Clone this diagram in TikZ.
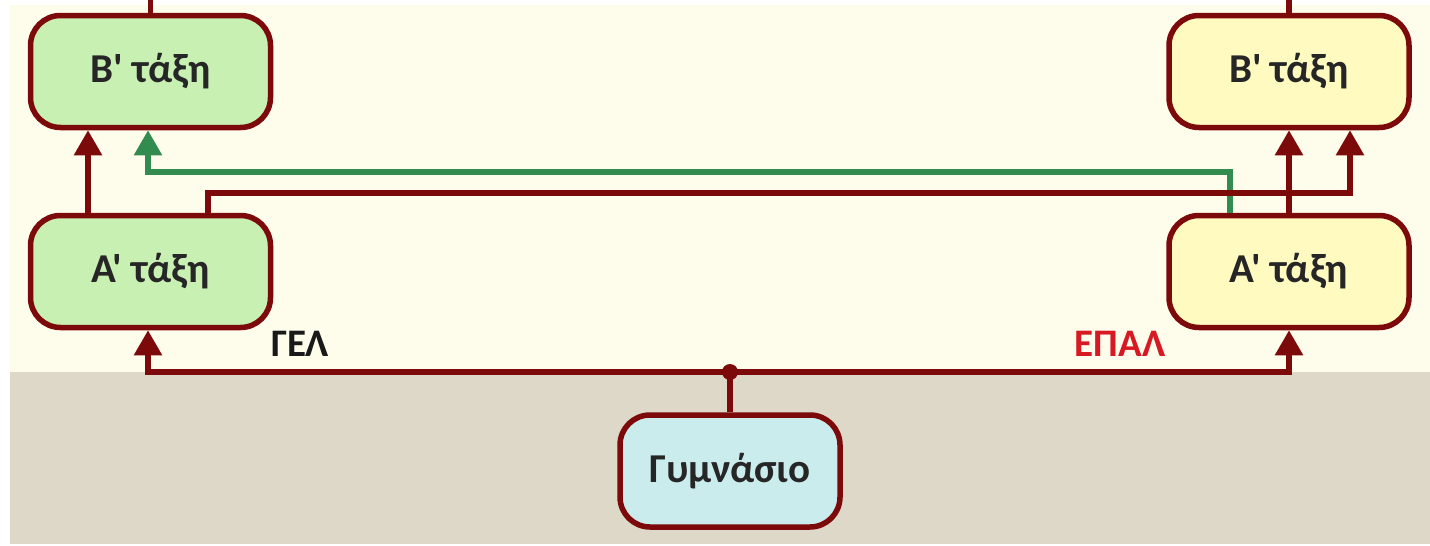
\documentclass[tikz,border=0pt]{standalone}
\usepackage{fontspec}
\setmainfont{Carlito}[Ligatures=TeXOff]
\usetikzlibrary{arrows.meta}
\definecolor{dred}{RGB}{125,10,10}
\definecolor{cream}{RGB}{254,253,236}
\definecolor{greyb}{RGB}{222,216,200}
\definecolor{gfill}{RGB}{200,240,178}
\definecolor{yfill}{RGB}{255,250,192}
\definecolor{cfill}{RGB}{202,236,236}
\definecolor{gline}{RGB}{50,140,80}
\definecolor{tred}{RGB}{215,25,35}
\tikzset{
  box/.style={draw=dred, line width=5.5pt, rounded corners=30pt, minimum width=240pt, minimum height=112pt, inner sep=0pt, font=\fontsize{41}{48}\selectfont\bfseries, text=black!85},
  conn/.style={draw=dred, line width=5.5pt},
  arr/.style={conn, -{Triangle[width=27pt,length=25pt]}},
  garr/.style={draw=gline, line width=5.5pt, -{Triangle[width=27pt,length=25pt]}},
  lbl/.style={font=\fontsize{39}{46}\selectfont\bfseries, inner sep=0pt}
}
\begin{document}
\begin{tikzpicture}[x=1pt,y=-1pt]
\useasboundingbox (0,0) rectangle (1430,546);
\fill[white] (0,0) rectangle (1430,546);
\fill[cream] (10,5) rectangle (1430,372);
\fill[greyb] (10,372) rectangle (1430,544);
\node[box, fill=gfill] (b1) at (150.5,71.5) {B' τάξη};
\node[box, fill=gfill] (a1) at (150.5,271.5) {A' τάξη};
\node[box, fill=yfill] (b2) at (1289,71.5) {B' τάξη};
\node[box, fill=yfill] (a2) at (1289,271.5) {A' τάξη};
\node[box, fill=cfill, minimum width=220pt] (g) at (730,471) {Γυμνάσιο};
\node[lbl, text=black!90] (gel) at (300,344) {ΓΕΛ};
\node[lbl, text=tred] (epal) at (1120,344) {ΕΠΑΛ};
\coordinate (t1) at (150.5,0);
\coordinate (t2) at (1289,0);
\coordinate (j) at (730,372);
% stubs at top
\draw[conn] (b1.north) -- (t1);
\draw[conn] (b2.north) -- (t2);
% green A'(EPAL) -> B'(GEL)
\draw[garr] ([xshift=-59pt]a2.north) |- (148,172) -- ([xshift=-2.5pt]b1.south);
% A'(GEL) -> B'(GEL)
\draw[arr] ([xshift=-62.5pt]a1.north) -- ([xshift=-62.5pt]b1.south);
% A'(GEL) -> B'(EPAL)
\draw[arr] ([xshift=57.5pt]a1.north) |- (1350,193) -- ([xshift=61pt]b2.south);
% A'(EPAL) -> B'(EPAL)
\draw[arr] (a2.north) -- (b2.south);
% Gymnasio
\draw[conn] (g.north) -- (j);
\draw[arr] (j) -| ([xshift=-2.5pt]a1.south);
\draw[arr] (j) -| (a2.south);
\fill[dred] (j) circle (8pt);
\end{tikzpicture}
\end{document}
